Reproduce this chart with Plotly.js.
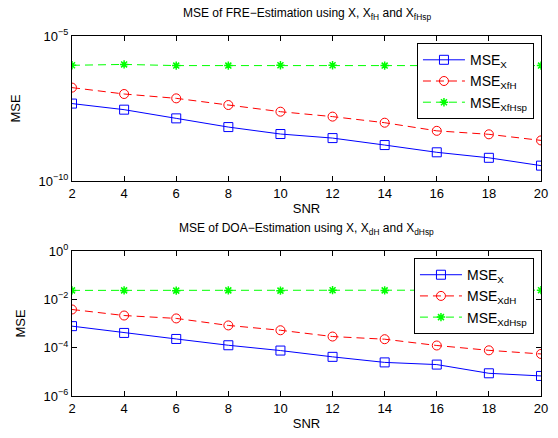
<!DOCTYPE html>
<html>
<head>
<meta charset="utf-8">
<script src="https://cdn.plot.ly/plotly-3.0.1.min.js"></script>
<style>html,body{margin:0;padding:0;background:#fff;}#chart{width:558px;height:438px;}</style>
</head>
<body>
<div id="chart"></div>
<script>
const snr = [2, 4, 6, 8, 10, 12, 14, 16, 18, 20];

// FRE estimation (log10 of MSE)
const freX      = [-7.33, -7.54, -7.84, -8.14, -8.38, -8.52, -8.76, -9.01, -9.20, -9.47];
const freXfH    = [-6.78, -7.00, -7.15, -7.38, -7.61, -7.78, -7.99, -8.27, -8.39, -8.60];
const freXfHsp  = [-6.01, -5.98, -6.02, -6.02, -6.01, -6.01, -6.02, -6.02, -6.02, -6.02];

// DOA estimation (log10 of MSE)
const doaX      = [-3.11, -3.39, -3.64, -3.90, -4.12, -4.38, -4.61, -4.70, -5.06, -5.17];
const doaXdH    = [-2.42, -2.67, -2.79, -3.08, -3.28, -3.54, -3.65, -3.91, -4.11, -4.26];
const doaXdHsp  = [-1.63, -1.63, -1.64, -1.63, -1.64, -1.62, -1.63, -1.63, -1.63, -1.62];

const xTicks = [2, 4, 6, 8, 10, 12, 14, 16, 18, 20];
const freYTicks = [1e-10, 1e-5];
const freYText = ['10<sup>−10</sup>', '10<sup>−5</sup>'];
const doaYTicks = [1e-6, 1e-4, 1e-2, 1];
const doaYText = ['10<sup>−6</sup>', '10<sup>−4</sup>', '10<sup>−2</sup>', '10<sup>0</sup>'];

const pow = a => a.map(v => Math.pow(10, v));
const FONT = 'Liberation Sans, Arial, Helvetica, sans-serif';

function tr(y, name, color, dash, symbol, size, lw, xa, ya, leg) {
  return {
    x: snr, y: pow(y), name: name, xaxis: xa, yaxis: ya, legend: leg,
    mode: 'lines+markers', type: 'scatter',
    line: {color: color, width: 1, dash: dash},
    marker: {symbol: symbol, size: size, color: color, line: {color: color, width: lw}}
  };
}

const DASH = '8px,5px';
const data = [
  tr(freX, 'MSE<sub>X</sub>', '#0000ff', 'solid', 'square-open', 9, 1, 'x', 'y', 'legend'),
  tr(freXfH, 'MSE<sub>XfH</sub>', '#ff0000', DASH, 'circle-open', 9, 1, 'x', 'y', 'legend'),
  tr(freXfHsp, 'MSE<sub>XfHsp</sub>', '#00ff00', DASH, 'asterisk-open', 7, 1.5, 'x', 'y', 'legend'),
  tr(doaX, 'MSE<sub>X</sub>', '#0000ff', 'solid', 'square-open', 9, 1, 'x2', 'y2', 'legend2'),
  tr(doaXdH, 'MSE<sub>XdH</sub>', '#ff0000', DASH, 'circle-open', 9, 1, 'x2', 'y2', 'legend2'),
  tr(doaXdHsp, 'MSE<sub>XdHsp</sub>', '#00ff00', DASH, 'asterisk-open', 7, 1.5, 'x2', 'y2', 'legend2')
];

const xBase = {
  range: [2, 20], tickvals: xTicks, ticks: 'inside', ticklen: 5, tickcolor: '#000',
  showline: true, linecolor: '#000', linewidth: 1, mirror: 'ticks', showgrid: false, zeroline: false,
  tickfont: {size: 13, color: '#000', family: FONT}
};
const yBase = {
  type: 'log', ticks: 'inside', ticklen: 5, tickcolor: '#000',
  showline: true, linecolor: '#000', linewidth: 1, mirror: 'ticks', showgrid: false, zeroline: false,
  tickfont: {size: 13, color: '#000', family: FONT}
};
const legBase = {
  xanchor: 'right', yanchor: 'top', x: 0.985,
  bgcolor: '#fff', bordercolor: '#000', borderwidth: 1,
  font: {size: 14, color: '#000', family: FONT}, itemwidth: 42, tracegroupgap: 0
};

const layout = {
  width: 558, height: 438,
  margin: {l: 72, r: 17, t: 36, b: 42},
  paper_bgcolor: '#fff', plot_bgcolor: '#fff',
  font: {family: FONT, color: '#000'},
  xaxis: Object.assign({}, xBase, {domain: [0, 1], anchor: 'y',
    title: {text: 'SNR', font: {size: 13, family: FONT}, standoff: 4}}),
  yaxis: Object.assign({}, yBase, {domain: [0.5972, 1], anchor: 'x', range: [-10, -5],
    tickvals: freYTicks, ticktext: freYText,
    title: {text: 'MSE', font: {size: 13, family: FONT}, standoff: 14}}),
  xaxis2: Object.assign({}, xBase, {domain: [0, 1], anchor: 'y2',
    title: {text: 'SNR', font: {size: 13, family: FONT}, standoff: 4}}),
  yaxis2: Object.assign({}, yBase, {domain: [0, 0.4028], anchor: 'x2', range: [-6, 0],
    tickvals: doaYTicks, ticktext: doaYText,
    title: {text: 'MSE', font: {size: 13, family: FONT}, standoff: 14}}),
  legend: Object.assign({}, legBase, {y: 0.98}),
  legend2: Object.assign({}, legBase, {y: 0.383}),
  annotations: [
    {text: 'MSE of FRE−Estimation using X, X<sub>fH</sub> and X<sub>fHsp</sub>',
     xref: 'paper', yref: 'paper', x: 0.5, y: 1, yshift: 12, yanchor: 'bottom', showarrow: false,
     font: {size: 12, family: FONT, color: '#000'}},
    {text: 'MSE of DOA−Estimation using X, X<sub>dH</sub> and X<sub>dHsp</sub>',
     xref: 'paper', yref: 'paper', x: 0.5, y: 0.4028, yshift: 12, yanchor: 'bottom', showarrow: false,
     font: {size: 12, family: FONT, color: '#000'}}
  ],
  showlegend: true
};

Plotly.newPlot('chart', data, layout, {displayModeBar: false, staticPlot: true});
</script>
</body>
</html>
